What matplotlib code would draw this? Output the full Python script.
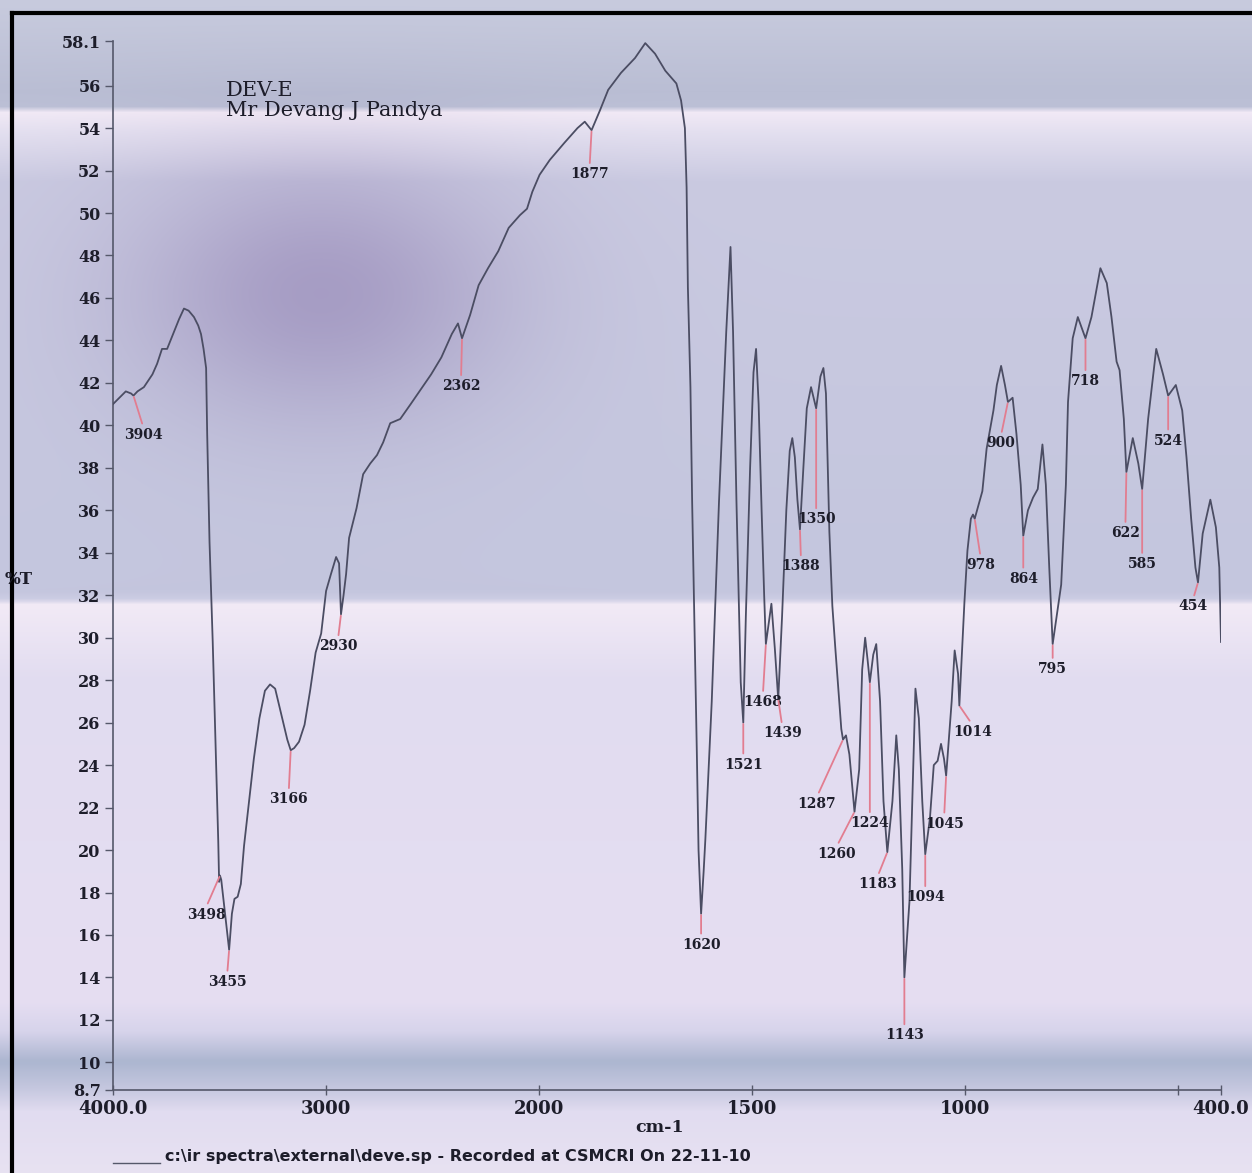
import numpy as np
import matplotlib
matplotlib.use("Agg")
import matplotlib.pyplot as plt
from matplotlib.lines import Line2D

# IR spectrum of DEV-E
wavenumber = [
    4000, 3970, 3940, 3915, 3904, 3885, 3855, 3815, 3793, 3770,
    3746, 3714, 3690, 3667, 3645, 3620, 3600, 3587, 3575, 3563,
    3558, 3547, 3532, 3519, 3506, 3502, 3498, 3492, 3472, 3455,
    3442, 3430, 3415, 3400, 3385, 3366, 3339, 3313, 3287, 3263,
    3239, 3213, 3182, 3166, 3150, 3127, 3101, 3075, 3049, 3023,
    3000, 2977, 2953, 2939, 2930, 2918, 2906, 2892, 2857, 2826,
    2793, 2761, 2732, 2699, 2652, 2603, 2541, 2507, 2459, 2410,
    2381, 2362, 2324, 2284, 2240, 2192, 2143, 2090, 2057, 2032,
    1999, 1975, 1941, 1910, 1893, 1877, 1858, 1838, 1808, 1775,
    1751, 1728, 1704, 1678, 1667, 1658, 1654, 1651, 1645, 1641,
    1630, 1626, 1620, 1614, 1610, 1595, 1578, 1561, 1551, 1545,
    1537, 1527, 1521, 1515, 1505, 1497, 1491, 1485, 1478, 1472,
    1468, 1455, 1447, 1439, 1430, 1420, 1412, 1406, 1400, 1394,
    1388, 1380, 1372, 1362, 1356, 1350, 1340, 1333, 1327, 1319,
    1312, 1305, 1298, 1291, 1287, 1280, 1272, 1265, 1260, 1249,
    1242, 1235, 1229, 1224, 1216, 1209, 1200, 1192, 1183, 1171,
    1162, 1156, 1148, 1143, 1131, 1117, 1109, 1101, 1094, 1083,
    1074, 1065, 1057, 1050, 1045, 1032, 1025, 1017, 1014, 1002,
    995, 987, 982, 978, 960, 950, 934, 926, 916, 907,
    900, 889, 880, 870, 864, 853, 841, 830, 819, 811,
    803, 795, 775, 764, 759, 748, 736, 718, 704, 683,
    668, 657, 645, 638, 628, 622, 607, 594, 585, 571,
    552, 536, 524, 506, 491, 481, 470, 460, 454, 443,
    425, 412, 404, 400,
]
transmittance = [
    41.0, 41.3, 41.6, 41.5, 41.4, 41.6, 41.8, 42.4, 42.9, 43.6,
    43.6, 44.4, 45.0, 45.5, 45.4, 45.1, 44.7, 44.3, 43.6, 42.7,
    39.6, 34.5, 29.8, 25.1, 20.4, 18.5, 18.8, 18.6, 16.8, 15.3,
    17.0, 17.7, 17.8, 18.4, 20.2, 21.9, 24.3, 26.2, 27.5, 27.8,
    27.6, 26.5, 25.2, 24.7, 24.8, 25.1, 25.9, 27.5, 29.3, 30.2,
    32.2, 33.0, 33.8, 33.5, 31.1, 32.0, 33.0, 34.7, 36.1, 37.7,
    38.2, 38.6, 39.2, 40.1, 40.3, 41.0, 41.9, 42.4, 43.2, 44.3,
    44.8, 44.1, 45.2, 46.6, 47.4, 48.2, 49.3, 49.9, 50.2, 51.0,
    51.8, 52.5, 53.3, 54.0, 54.3, 53.9, 54.8, 55.8, 56.6, 57.3,
    58.0, 57.5, 56.7, 56.1, 55.3, 54.0, 51.2, 46.5, 41.8, 36.4,
    24.6, 20.0, 17.0, 19.0, 20.5, 27.0, 36.4, 44.4, 48.4, 44.4,
    36.4, 27.9, 26.0, 31.0, 38.0, 42.5, 43.6, 41.0, 36.0, 32.0,
    29.7, 31.6, 29.5, 27.1, 31.0, 36.0, 38.8, 39.4, 38.5, 36.5,
    35.1, 38.0, 40.8, 41.8, 41.3, 40.8, 42.3, 42.7, 41.5, 35.0,
    31.5, 29.5, 27.6, 25.7, 25.2, 25.4, 24.5, 22.9, 21.8, 23.8,
    28.5, 30.0, 28.9, 27.9, 29.2, 29.7, 27.0, 22.3, 19.9, 22.3,
    25.4, 23.8, 19.1, 14.0, 17.6, 27.6, 26.2, 22.3, 19.8, 21.5,
    24.0, 24.2, 25.0, 24.3, 23.5, 27.0, 29.4, 28.3, 26.8, 31.7,
    34.1, 35.6, 35.8, 35.6, 36.9, 38.9, 40.7, 41.9, 42.8, 41.9,
    41.1, 41.3, 39.6, 37.2, 34.8, 36.0, 36.6, 37.0, 39.1, 37.2,
    33.3, 29.7, 32.5, 37.2, 41.1, 44.1, 45.1, 44.1, 45.1, 47.4,
    46.7, 45.1, 43.0, 42.6, 40.3, 37.8, 39.4, 38.2, 37.0, 40.3,
    43.6, 42.4, 41.4, 41.9, 40.7, 38.5, 35.6, 33.3, 32.6, 34.9,
    36.5, 35.2, 33.3, 29.8,
]

peak_labels = [3904, 3498, 3455, 3166, 2930, 2362, 1877, 1620, 1521, 1468,
               1439, 1388, 1350, 1287, 1260, 1224, 1183, 1143, 1094, 1045,
               1014, 978, 900, 864, 795, 718, 622, 585, 524, 454]
# where each label text sits from its point, in pixels (dx, dy downwards)
label_offsets = [(10, 39), (-14, 39), (-2, 32), (-2, 49), (-3, 32), (-1, 48),
                 (-2, 44), (0, 31), (0, 42), (-3, 58), (4, 34), (1, 37),
                 (0, 111), (-26, 64), (-18, 42), (0, 141), (-10, 32), (0, 58),
                 (0, 43), (-2, 48), (13, 26), (6, 46), (-7, 41), (0, 43),
                 (0, 25), (0, 43), (-1, 61), (0, 75), (0, 45), (-5, 24)]

x_ticks = [4000, 3000, 2000, 1500, 1000, 500, 400]
x_tick_labels = ['4000.0', '3000', '2000', '1500', '1000', '', '400.0']
y_ticks = [8.7, 10, 12, 14, 16, 18, 20, 22, 24, 26, 28, 30, 32, 34, 36, 38,
           40, 42, 44, 46, 48, 50, 52, 54, 56, 58.1]
y_tick_labels = ['8.7', '10', '12', '14', '16', '18', '20', '22', '24', '26',
                 '28', '30', '32', '34', '36', '38', '40', '42', '44', '46',
                 '48', '50', '52', '54', '56', '58.1']

W, H = 1252, 1173
INK = '#1d1d2a'
CURVE = '#4b4d63'
MARK = '#e27d90'
SERIF = 'DejaVu Serif'


def fwd(x):
    # spectrometer chart: 4000-2000 at half the scale of 2000-400
    x = np.asarray(x, dtype=float)
    return np.where(x > 2000, 2000 + (x - 2000) / 2, x)


def inv(u):
    u = np.asarray(u, dtype=float)
    return np.where(u > 2000, 2000 + (u - 2000) * 2, u)


def paper(h, w):
    # scanned paper look: pale lavender with light/dark bands
    ys = [0, 90, 106, 110, 130, 180, 590, 598, 603, 680, 1000, 1030, 1060, 1085, 1110, 1173]
    cs = np.array([(200, 203, 222), (186, 190, 212), (188, 192, 214), (242, 234, 246),
                   (228, 224, 240), (202, 202, 225), (196, 198, 222), (205, 205, 228),
                   (242, 234, 246), (225, 220, 240), (230, 222, 242), (215, 212, 235),
                   (172, 182, 208), (195, 198, 222), (225, 220, 240), (232, 226, 242)], float)
    rows = np.arange(h) * 1173 / h
    col = np.stack([np.interp(rows, ys, cs[:, k]) for k in range(3)], axis=1)
    img = np.repeat(col[:, None, :], w, axis=1)
    yy, xx = np.mgrid[0:h, 0:w]
    xx = xx * 1252 / w
    yy = yy * 1173 / h
    blob = np.exp(-(((xx - 320) / 190) ** 2 + ((yy - 290) / 130) ** 2))
    img -= blob[..., None] * np.array([34, 44, 28])
    return np.clip(img, 0, 255) / 255


fig = plt.figure(figsize=(W / 100, H / 100), dpi=100)

bg = fig.add_axes([0, 0, 1, 1], zorder=-5)
bg.imshow(paper(391, 417), aspect='auto', interpolation='bilinear', extent=(0, 1, 0, 1))
bg.set_xlim(0, 1)
bg.set_ylim(0, 1)
bg.axis('off')

ax = fig.add_axes([113 / W, 1 - 1090 / H, 1108 / W, (1090 - 41) / H])
ax.patch.set_alpha(0)
ax.set_xscale('function', functions=(fwd, inv))
ax.plot(wavenumber, transmittance, color=CURVE, lw=1.3, zorder=3)
ax.set_xlim(4000, 400)
ax.set_ylim(8.7, 58.1)

ax.set_xticks(x_ticks)
ax.set_xticklabels(x_tick_labels)
ax.set_yticks(y_ticks)
ax.set_yticklabels(y_tick_labels)
ax.xaxis.set_minor_locator(matplotlib.ticker.NullLocator())
ax.tick_params(axis='x', direction='inout', length=7, width=1, color='#55586a',
               pad=4, labelsize=13, labelcolor=INK)
ax.tick_params(axis='y', direction='out', length=6, width=1, color='#55586a',
               pad=3, labelsize=11.5, labelcolor=INK)
for lab in ax.get_xticklabels() + ax.get_yticklabels():
    lab.set_family(SERIF)
    lab.set_fontweight('bold')
for side in ['top', 'right']:
    ax.spines[side].set_visible(False)
for side in ['left', 'bottom']:
    ax.spines[side].set_color('#55586a')
    ax.spines[side].set_linewidth(1.2)

wn_arr = np.array(wavenumber)
t_arr = np.array(transmittance)
for lab, (dx, dy) in zip(peak_labels, label_offsets):
    i = int(np.argmin(np.abs(wn_arr - lab)))
    ax.annotate(str(lab), xy=(wn_arr[i], t_arr[i]), xytext=(dx, -dy),
                textcoords='offset pixels', ha='center', va='center',
                fontsize=10, fontweight='bold', family=SERIF, color=INK,
                arrowprops=dict(arrowstyle='-', color=MARK, lw=1.3,
                                shrinkA=1, shrinkB=1, relpos=(0.5, 1.0)),
                zorder=4)

fig.text(226 / W, 1 - 91 / H, 'DEV-E', family=SERIF, fontsize=15,
         color=INK, va='center', ha='left')
fig.text(226 / W, 1 - 111 / H, 'Mr Devang J Pandya', family=SERIF, fontsize=15,
         color=INK, va='center', ha='left')
fig.text(5 / W, 1 - 580 / H, '%T', family=SERIF, fontsize=12, fontweight='bold',
         color=INK, va='center', ha='left')
fig.text(660 / W, 1 - 1127 / H, 'cm-1', family=SERIF, fontsize=12.5, fontweight='bold',
         color=INK, va='center', ha='center')
fig.text(165 / W, 1 - 1157 / H,
         r'c:\ir spectra\external\deve.sp - Recorded at CSMCRI On 22-11-10',
         family='DejaVu Sans', fontsize=11.5, fontweight='bold', color=INK,
         va='center', ha='left')

# footer legend stroke and the black edge of the scan
fig.add_artist(Line2D([113 / W, 160 / W], [1 - 1163 / H] * 2, color='#55586a', lw=1))
fig.add_artist(Line2D([12 / W, 12 / W], [0, 1 - 13 / H], color='black', lw=3))
fig.add_artist(Line2D([12 / W, 1], [1 - 13 / H] * 2, color='black', lw=3))

fig.savefig('out.png', dpi=100)
